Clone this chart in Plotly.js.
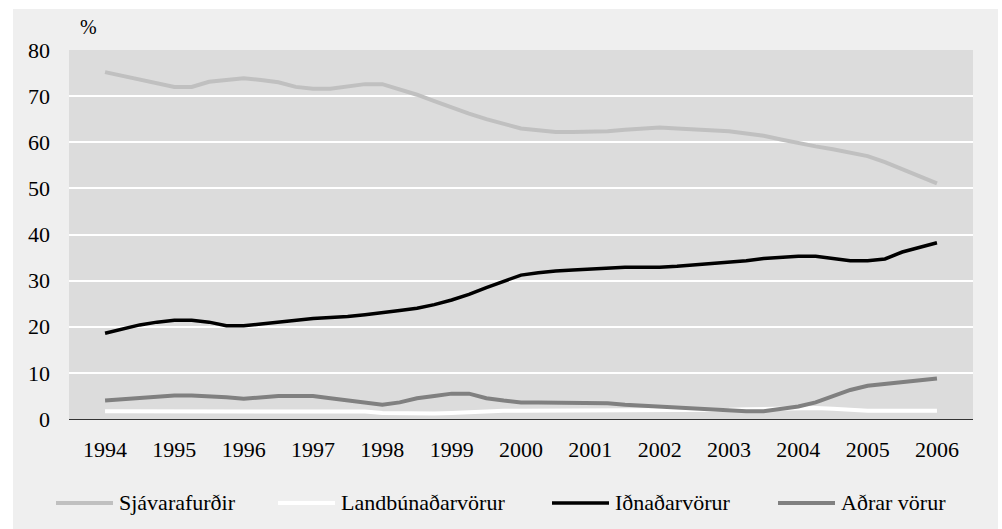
<!DOCTYPE html>
<html>
<head>
<meta charset="utf-8">
<script src="https://cdn.plot.ly/plotly-3.0.1.min.js"></script>
<style>
html,body{margin:0;padding:0;background:#ffffff;width:1002px;height:529px;overflow:hidden;}
#chart{position:absolute;left:13px;top:9px;width:985px;height:520px;}
</style>
</head>
<body>
<div id="chart"></div>
<script>
// Quarterly time points 1994.00 ... 2006.00
const quarters = [
1994,1994.25,1994.5,1994.75,1995,1995.25,1995.5,1995.75,1996,1996.25,1996.5,1996.75,
1997,1997.25,1997.5,1997.75,1998,1998.25,1998.5,1998.75,1999,1999.25,1999.5,1999.75,
2000,2000.25,2000.5,2000.75,2001,2001.25,2001.5,2001.75,2002,2002.25,2002.5,2002.75,
2003,2003.25,2003.5,2003.75,2004,2004.25,2004.5,2004.75,2005,2005.25,2005.5,2005.75,2006];

const seriesNames = ["Sjávarafurðir","Landbúnaðarvörur","Iðnaðarvörur","Aðrar vörur"];

const sjavarafurdir = [
75.2,74.4,73.6,72.6,72.0,72.0,73.1,73.5,73.9,73.5,73.0,72.0,
71.6,71.6,72.1,72.6,72.6,71.5,70.3,68.9,67.5,66.2,65.0,64.0,
63.0,62.6,62.2,62.2,62.2,62.4,62.7,62.9,63.2,63.0,62.8,62.6,
62.4,61.9,61.4,60.6,59.8,59.1,58.5,57.8,57.0,55.7,54.2,52.7,51.1];

const landbunadarvorur = [
1.7,1.7,1.7,1.7,1.7,1.7,1.7,1.7,1.7,1.7,1.7,1.7,
1.7,1.7,1.7,1.6,1.3,1.2,1.2,1.2,1.3,1.5,1.7,1.8,
1.8,1.8,1.8,1.8,1.8,1.8,1.8,1.8,1.8,1.8,1.8,1.9,
2.0,2.1,2.2,2.4,2.5,2.4,2.2,1.9,1.8,1.8,1.8,1.8,1.8];

const idnadarvorur = [
18.6,19.5,20.4,21.0,21.4,21.4,21.0,20.2,20.2,20.6,21.0,21.4,
21.8,22.0,22.2,22.6,23.0,23.5,24.0,24.8,25.8,27.0,28.5,29.8,
31.2,31.7,32.1,32.3,32.5,32.7,32.9,32.9,32.9,33.1,33.4,33.6,
33.9,34.3,34.8,35.1,35.3,35.3,34.8,34.3,34.3,34.7,36.2,37.2,38.2];

const adrarVorur = [
4.0,4.3,4.6,4.9,5.1,5.1,5.0,4.7,4.4,4.7,5.0,5.0,
5.0,4.5,4.0,3.6,3.1,3.6,4.5,5.0,5.5,5.5,4.5,4.0,
3.6,3.6,3.6,3.6,3.6,3.4,3.1,2.9,2.7,2.5,2.2,2.0,
1.7,1.7,1.7,2.1,2.7,3.6,5.0,6.3,7.2,7.6,8.0,8.4,8.8];

const yearTicks = [1994,1995,1996,1997,1998,1999,2000,2001,2002,2003,2004,2005,2006];
const yTicks = [0,10,20,30,40,50,60,70,80];

const colors = ["#c0c0c0","#ffffff","#000000","#808080"];
const widths = [4,4,3.5,4];
const values = [sjavarafurdir,landbunadarvorur,idnadarvorur,adrarVorur];

const FONT = "'Liberation Serif', 'Times New Roman', serif";

const traces = values.map((v,i)=>({
  x: quarters, y: v, type:"scatter", mode:"lines", name: seriesNames[i],
  line:{color:colors[i], width:widths[i]}, showlegend:false, hoverinfo:"skip"
}));

// manual legend (pixel positions converted to paper fractions of the plot area)
const plotL=69, plotR=973, plotT=50, plotB=419;
const px = x => (x-plotL)/(plotR-plotL);
const py = y => (plotB-y)/(plotB-plotT);
const legendStarts = [56,278,552,778];
const legY = 503;
const shapes = [], annotations = [];
legendStarts.forEach((s,i)=>{
  shapes.push({type:"line", xref:"paper", yref:"paper", x0:px(s), x1:px(s+57), y0:py(legY), y1:py(legY),
    line:{color:colors[i], width:widths[i]}});
  annotations.push({xref:"paper", yref:"paper", x:px(s+61), y:py(legY), xanchor:"left", yanchor:"middle",
    text:seriesNames[i], showarrow:false, font:{family:FONT, size:22, color:"#000"}});
});
annotations.push({xref:"paper", yref:"paper", x:px(88), y:py(27), xanchor:"center", yanchor:"middle",
  text:"%", showarrow:false, font:{family:FONT, size:20, color:"#000"}});

const layout = {
  width:985, height:520,
  margin:{l:plotL-13, r:998-plotR, t:plotT-9, b:529-plotB},
  paper_bgcolor:"#efefef", plot_bgcolor:"#dcdcdc",
  font:{family:FONT, size:22, color:"#000"},
  xaxis:{range:[1993.48,2006.52], tickvals:yearTicks, ticktext:yearTicks.map(String),
    showgrid:false, zeroline:false, showline:true, linecolor:"#333333", linewidth:1,
    ticks:"", ticklabelstandoff:11, tickfont:{family:FONT,size:22,color:"#000"}},
  yaxis:{range:[0,80], tickvals:yTicks, showgrid:true, gridcolor:"#ffffff", gridwidth:2,
    zeroline:false, showline:false, ticks:"", ticklabelstandoff:18,
    tickfont:{family:FONT,size:22,color:"#000"}},
  shapes:shapes, annotations:annotations, showlegend:false
};

Plotly.newPlot("chart", traces, layout, {displayModeBar:false, staticPlot:true});
</script>
</body>
</html>
